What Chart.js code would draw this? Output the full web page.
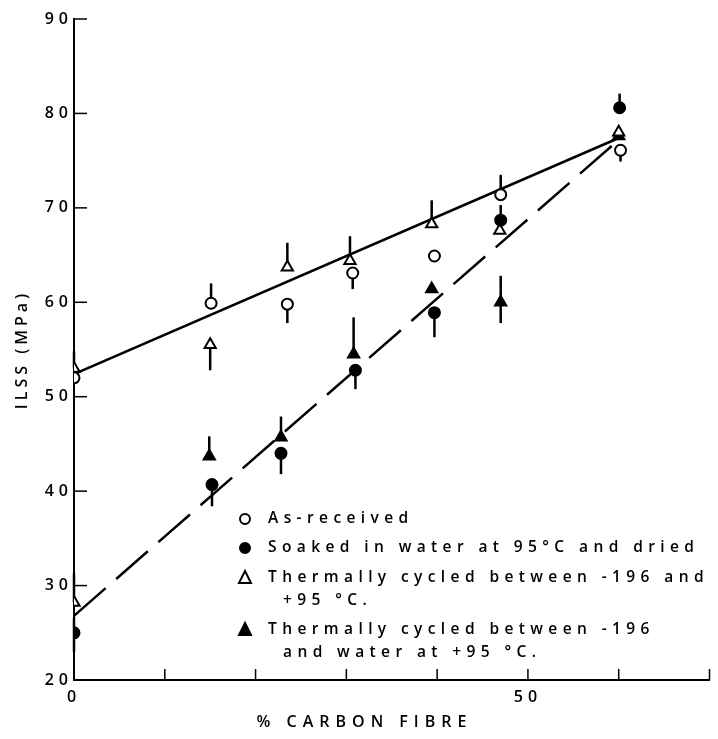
<!DOCTYPE html>
<html lang="en">
<head>
<meta charset="UTF-8">
<title>ILSS vs carbon fibre</title>
<script src="https://cdn.jsdelivr.net/npm/chart.js"></script>
<style>
	body { margin: 0; background: #fff; }
	#wrap { width: 718px; height: 739px; position: relative; }
</style>
</head>
<body>
	<div id="wrap"><canvas id="ilss"></canvas></div>

	<script>
		// % carbon fibre vs ILSS (MPa)
		// xxLo / xxHi : ends of the error bar (null = no bar on that side)
		var asRecX = [0, 15.1, 23.5, 30.7, 39.7, 47.0, 60.2];
		var asRecY = [52.0, 59.9, 59.8, 63.1, 64.9, 71.4, 76.1];
		var asRecLo = [null, null, 57.8, 61.4, null, null, 74.9];
		var asRecHi = [null, 62.0, null, null, null, 73.5, null];

		var soakX = [0, 15.2, 22.8, 31.0, 39.7, 47.0, 60.1];
		var soakY = [25.0, 40.7, 44.0, 52.8, 58.9, 68.7, 80.6];
		var soakLo = [23.0, 38.4, 41.8, 50.8, 56.3, null, null];
		var soakHi = [26.6, null, null, null, null, 70.3, 82.1];

		var cycX = [0, 15.0, 23.5, 30.4, 39.4, 46.9, 60.0];
		var cycY = [53.0, 55.5, 63.7, 64.4, 68.3, 67.6, 78.0];
		var cycLo = [null, 52.8, null, null, null, null, null];
		var cycHi = [54.8, null, 66.3, 67.0, 70.8, null, null];

		var wetX = [0, 14.9, 22.8, 30.8, 39.4, 47.0, 60.0];
		var wetY = [28.2, 43.7, 45.7, 54.5, 61.4, 60.0, 77.6];
		var wetLo = [null, null, null, null, null, 57.8, null];
		var wetHi = [31.3, 45.8, 47.9, 58.4, null, 62.8, null];

		// fitted lines
		var dryFitX = [0, 60];
		var dryFitY = [52.4, 77.4];
		var wetFitX = [0, 60];
		var wetFitY = [26.8, 77.2];

		var xTicks = [0, 10, 20, 30, 40, 50, 60, 70];
		var xLabelled = [0, 50];

		var legendRows = [
			{ mark: 'circle', filled: false, lines: ['As-received'] },
			{ mark: 'circle', filled: true, lines: ['Soaked in water at 95°C and dried'] },
			{ mark: 'triangle', filled: false, lines: ['Thermally cycled between -196 and', '+95 °C.'] },
			{ mark: 'triangle', filled: true, lines: ['Thermally cycled between -196', 'and water at +95 °C.'] }
		];

		var FONT = '"Open Sans", "DejaVu Sans", sans-serif';

		function pts(xs, ys) {
			var out = [];
			for (var i = 0; i < xs.length; ++i) out.push({ x: xs[i], y: ys[i] });
			return out;
		}

		function drawMark(ctx, kind, filled, x, y) {
			ctx.save();
			ctx.lineWidth = 2;
			ctx.strokeStyle = '#000';
			ctx.fillStyle = filled ? '#000' : '#fff';
			ctx.beginPath();
			if (kind == 'circle') {
				ctx.arc(x, y, 5, 0, Math.PI * 2);
			} else {
				ctx.moveTo(x, y - 7);
				ctx.lineTo(x + 6, y + 5);
				ctx.lineTo(x - 6, y + 5);
				ctx.closePath();
			}
			ctx.fill();
			ctx.stroke();
			ctx.restore();
		}

		var bars = [
			{ xs: asRecX, ys: asRecY, lo: asRecLo, hi: asRecHi },
			{ xs: soakX, ys: soakY, lo: soakLo, hi: soakHi },
			{ xs: cycX, ys: cycY, lo: cycLo, hi: cycHi },
			{ xs: wetX, ys: wetY, lo: wetLo, hi: wetHi }
		];

		var inkPlugin = {
			id: 'ink',
			beforeLayout: function(chart) { chart.ctx.letterSpacing = '5px'; },
			beforeDraw: function(chart) { chart.ctx.letterSpacing = '5px'; },
			beforeDatasetsDraw: function(chart) {
				var ctx = chart.ctx, xs = chart.scales.x, ys = chart.scales.y;
				ctx.save();
				ctx.strokeStyle = '#000';
				ctx.lineWidth = 2.5;
				bars.forEach(function(b) {
					for (var i = 0; i < b.xs.length; ++i) {
						if (b.lo[i] == null && b.hi[i] == null) continue;
						var px = xs.getPixelForValue(b.xs[i]);
						var y0 = ys.getPixelForValue(b.lo[i] != null ? b.lo[i] : b.ys[i]);
						var y1 = ys.getPixelForValue(b.hi[i] != null ? b.hi[i] : b.ys[i]);
						ctx.beginPath();
						ctx.moveTo(px, y0);
						ctx.lineTo(px, y1);
						ctx.stroke();
					}
				});
				ctx.restore();
			},
			afterDraw: function(chart) {
				var ctx = chart.ctx, xs = chart.scales.x, ys = chart.scales.y, a = chart.chartArea;
				ctx.save();
				ctx.strokeStyle = '#000';
				ctx.lineWidth = 1.5;
				// inward ticks
				ys.ticks.forEach(function(t) {
					var py = ys.getPixelForValue(t.value);
					ctx.beginPath();
					ctx.moveTo(a.left, py);
					ctx.lineTo(a.left + 13, py);
					ctx.stroke();
				});
				xTicks.forEach(function(v) {
					var px = xs.getPixelForValue(v);
					ctx.beginPath();
					ctx.moveTo(px, a.bottom);
					ctx.lineTo(px, a.bottom - 11);
					ctx.stroke();
				});

				ctx.fillStyle = '#000';
				// axis titles
				ctx.font = '600 16px ' + FONT;
				ctx.letterSpacing = '4px';
				ctx.textAlign = 'center';
				ctx.textBaseline = 'middle';
				ctx.save();
				ctx.translate(22, (a.top + a.bottom) / 2);
				ctx.rotate(-Math.PI / 2);
				ctx.fillText('ILSS (MPa)', 0, 0);
				ctx.restore();
				ctx.letterSpacing = '6px';
				ctx.fillText('% CARBON FIBRE', xs.getPixelForValue(32), 722);

				// legend
				ctx.font = '600 15.5px ' + FONT;
				ctx.letterSpacing = '5.4px';
				ctx.textAlign = 'left';
				var rowY = [519, 548, 578, 630];
				legendRows.forEach(function(r, i) {
					drawMark(ctx, r.mark, r.filled, 245, rowY[i]);
					r.lines.forEach(function(txt, j) {
						ctx.fillText(txt, j == 0 ? 268 : 283, rowY[i] + j * 23);
					});
				});
				ctx.restore();
			}
		};

		var ctx = document.getElementById('ilss').getContext('2d');
		var chart = new Chart(ctx, {
			type : 'scatter',
			data : {
				datasets : [ {
					label : 'As-received',
					data : pts(asRecX, asRecY),
					pointStyle : 'circle',
					pointRadius : 5.5,
					pointBorderWidth : 2,
					backgroundColor : '#fff',
					borderColor : '#000'
				}, {
					label : 'Soaked',
					data : pts(soakX, soakY),
					pointStyle : 'circle',
					pointRadius : 5.5,
					pointBorderWidth : 2,
					backgroundColor : '#000',
					borderColor : '#000'
				}, {
					label : 'Cycled dry',
					data : pts(cycX, cycY),
					pointStyle : 'triangle',
					pointRadius : 6.5,
					pointBorderWidth : 2,
					backgroundColor : '#fff',
					borderColor : '#000'
				}, {
					label : 'Cycled wet',
					data : pts(wetX, wetY),
					pointStyle : 'triangle',
					pointRadius : 6.5,
					pointBorderWidth : 2,
					// the 0 % point is printed hollow
					backgroundColor : wetX.map(function(v, i) { return i == 0 ? '#fff' : '#000'; }),
					borderColor : '#000'
				}, {
					label : 'fit dry',
					data : pts(dryFitX, dryFitY),
					showLine : true,
					pointRadius : 0,
					borderColor : '#000',
					borderWidth : 2.5
				}, {
					label : 'fit wet',
					data : pts(wetFitX, wetFitY),
					showLine : true,
					pointRadius : 0,
					borderColor : '#000',
					borderWidth : 2.5,
					borderDash : [42, 14]
				} ]
			},
			options : {
				responsive : true,
				maintainAspectRatio : false,
				animation : false,
				layout : { padding : { top : 19, right : 5, left : 0, bottom : 0 } },
				plugins : { legend : { display : false }, tooltip : { enabled : false } },
				scales : {
					x : {
						type : 'linear',
						min : 0,
						max : 70,
						afterFit : function(s) { s.height = 59; },
						grid : { drawOnChartArea : false, drawTicks : false },
						border : { color : '#000', width : 2 },
						ticks : {
							stepSize : 10,
							padding : 8,
							color : '#000',
							font : { family : FONT, size : 16, weight : '600' },
							callback : function(v) { return xLabelled.indexOf(v) >= 0 ? v : ''; }
						}
					},
					y : {
						min : 20,
						max : 90,
						afterFit : function(s) { s.width = 74; },
						grid : { drawOnChartArea : false, drawTicks : false },
						border : { color : '#000', width : 2 },
						ticks : {
							stepSize : 10,
							padding : 1,
							color : '#000',
							font : { family : FONT, size : 16, weight : '600' }
						}
					}
				}
			},
			plugins : [ inkPlugin ]
		});
	</script>
</body>
</html>
